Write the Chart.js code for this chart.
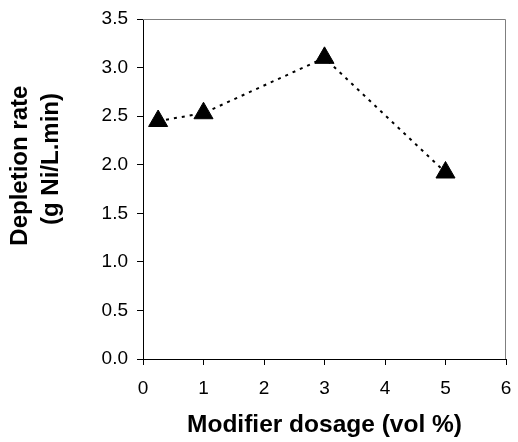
<!DOCTYPE html>
<html>
<head>
<meta charset="utf-8">
<script src="https://cdn.jsdelivr.net/npm/chart.js@4/dist/chart.umd.min.js"></script>
<style>
  html, body { margin: 0; padding: 0; background: #fff; }
  #wrap { width: 518px; height: 442px; }
</style>
</head>
<body>
<div id="wrap"><canvas id="chart" width="518" height="442"></canvas></div>
<script>
// data
const dosage = [0.25, 1, 3, 5];
const depletion = [2.45, 2.53, 3.1, 1.92];
const xTicks = [0, 1, 2, 3, 4, 5, 6];
const yTicks = [0, 0.5, 1, 1.5, 2, 2.5, 3, 3.5];

const points = dosage.map((x, i) => ({ x: x, y: depletion[i] }));

// thin frame on top and right of the plot area
const frame = {
  id: "frame",
  beforeDatasetsDraw(chart) {
    const a = chart.chartArea;
    const ctx = chart.ctx;
    ctx.save();
    ctx.strokeStyle = "#7f7f7f";
    ctx.lineWidth = 1;
    ctx.beginPath();
    ctx.moveTo(a.left, a.top + 0.5);
    ctx.lineTo(a.right - 0.5, a.top + 0.5);
    ctx.lineTo(a.right - 0.5, a.bottom);
    ctx.stroke();
    ctx.restore();
  },
};

const tickFont = { family: "Liberation Sans, Arial, sans-serif", size: 19 };

// the y title sits above the middle of the plot in the original,
// leading spaces push each rotated line upwards
const yTitle = ["       Depletion rate", "         (g Ni/L.min)"];

new Chart(document.getElementById("chart"), {
  type: "scatter",
  data: {
    datasets: [
      {
        data: points,
        showLine: true,
        borderColor: "#000",
        borderWidth: 2,
        borderDash: [3, 5],
        pointStyle: "triangle",
        pointRadius: 11,
        pointBackgroundColor: "#000",
        pointBorderColor: "#000",
        pointBorderWidth: 1,
      },
    ],
  },
  options: {
    responsive: false,
    animation: false,
    events: [],
    layout: { padding: { top: 19, right: -6, left: 0, bottom: 0 } },
    plugins: {
      legend: { display: false },
      tooltip: { enabled: false },
    },
    scales: {
      x: {
        type: "linear",
        min: 0,
        max: 6,
        afterBuildTicks: (s) => { s.ticks = xTicks.map((v) => ({ value: v })); },
        afterFit: (s) => {
          s.height = 83;
          s.paddingRight = 0;
          s.paddingLeft = 0;
        },
        border: { color: "#000", width: 1 },
        grid: { drawOnChartArea: false, tickLength: 6, color: "#000" },
        ticks: {
          color: "#000",
          padding: 12,
          font: tickFont,
        },
        title: {
          display: true,
          text: "Modifier dosage (vol %)",
          color: "#000",
          padding: { top: 0, bottom: 2 },
          font: { family: "Liberation Sans, Arial, sans-serif", size: 24.5, weight: "bold", lineHeight: 1.2 },
        },
      },
      y: {
        type: "linear",
        min: 0,
        max: 3.5,
        afterBuildTicks: (s) => { s.ticks = yTicks.map((v) => ({ value: v })); },
        afterFit: (s) => {
          s.width = 143;
          s.paddingTop = 0;
          s.paddingBottom = 0;
        },
        border: { color: "#000", width: 1 },
        grid: { drawOnChartArea: false, tickLength: 6, color: "#000" },
        ticks: {
          color: "#000",
          padding: 9,
          callback: (v) => v.toFixed(1),
          font: tickFont,
        },
        title: {
          display: true,
          text: yTitle,
          color: "#000",
          padding: { top: 5, bottom: 0 },
          font: { family: "Liberation Sans, Arial, sans-serif", size: 24, weight: "bold", lineHeight: 1.3 },
        },
      },
    },
  },
  plugins: [frame],
});
</script>
</body>
</html>
